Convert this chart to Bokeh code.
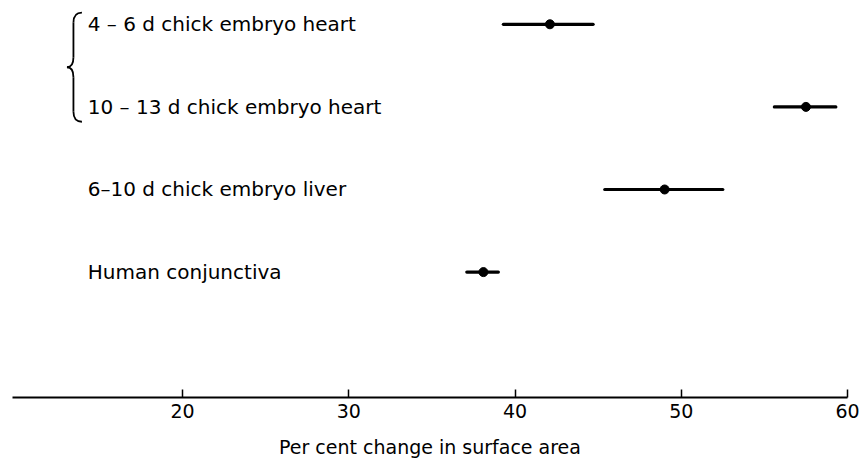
from bokeh.plotting import figure
from bokeh.models import Range1d, FixedTicker, ColumnDataSource
from bokeh.core.properties import value
from bokeh.embed import file_html
from bokeh.resources import INLINE

# ---- data ----
labels = ["4 – 6 d chick embryo heart", "10 – 13 d chick embryo heart",
          "6–10 d chick embryo liver", "Human conjunctiva"]
means = [42.1, 57.5, 49.0, 38.1]
lows = [39.3, 55.6, 45.4, 37.1]
highs = [44.7, 59.3, 52.5, 39.0]
rows = [4, 3, 2, 1]
tick_values = [20, 30, 40, 50, 60]

FONT = "DejaVu Sans"

p = figure(width=860, height=460, output_backend="svg", toolbar_location=None,
           x_range=Range1d(9.774, 60), y_range=Range1d(-0.518, 4.191),
           y_axis_location=None, min_border_left=12, min_border_right=13,
           min_border_top=8, min_border_bottom=58)
p.grid.visible = False
p.outline_line_color = None
p.background_fill_color = "white"
p.border_fill_color = "white"

src = ColumnDataSource(dict(label=labels, mean=means, low=lows, high=highs, row=rows))

p.segment(x0="low", x1="high", y0="row", y1="row", source=src,
          line_color="black", line_width=3.2, line_cap="round")
p.scatter(x="mean", y="row", source=src, size=9, fill_color="black", line_color="black")

label_x = 14.3
p.text(x=[label_x] * len(labels), y=rows, text=labels, text_font=value(FONT),
       text_font_size="20px", text_baseline="middle", text_align="left", text_color="black")

# brace grouping the two heart rows
bx_end, bx_mid, bx_tip = 13.95, 13.44, 13.05
by_top = rows[0] + 0.14
by_bot = rows[1] - 0.18
by_c = (by_top + by_bot) / 2
r = 0.12
p.quadratic(x0=[bx_end, bx_mid, bx_tip, bx_mid],
            y0=[by_top, by_c + r, by_c, by_bot + r],
            x1=[bx_mid, bx_tip, bx_mid, bx_end],
            y1=[by_top - r, by_c, by_c - r, by_bot],
            cx=[bx_mid, bx_mid, bx_mid, bx_mid],
            cy=[by_top, by_c, by_c, by_bot],
            line_color="black", line_width=1.8)
p.segment(x0=[bx_mid, bx_mid], x1=[bx_mid, bx_mid],
          y0=[by_top - r, by_c - r], y1=[by_c + r, by_bot + r],
          line_color="black", line_width=1.8)

ax = p.xaxis[0]
ax.ticker = FixedTicker(ticks=tick_values)
ax.minor_tick_line_color = None
ax.major_tick_in = 8
ax.major_tick_out = 0
ax.major_tick_line_width = 1.5
ax.axis_line_width = 1.8
ax.axis_line_color = "black"
ax.major_tick_line_color = "black"
ax.major_label_text_font = FONT
ax.major_label_text_font_size = "19px"
ax.major_label_text_color = "black"
ax.major_label_standoff = 6
ax.axis_label = "Per cent change in surface area"
ax.axis_label_text_font = FONT
ax.axis_label_text_font_size = "19px"
ax.axis_label_text_font_style = "normal"
ax.axis_label_text_color = "black"
ax.axis_label_standoff = 15

open("out.html", "w").write(file_html(p, INLINE))
